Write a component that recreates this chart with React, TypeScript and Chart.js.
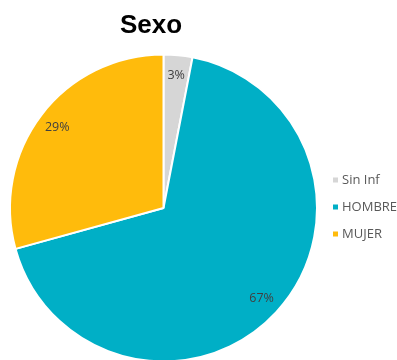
import { useEffect, useRef } from "react";
import { Chart, registerables } from "chart.js";

Chart.register(...registerables);

const TITLE = "Sexo";
const categories = ["Sin Inf", "HOMBRE", "MUJER"];
const shares = [3, 67, 29];
const sliceColors = ["#D6D6D6", "#00AFC6", "#FFBB0C"];

const LABEL_FONT = "12.5px 'Open Sans', 'Liberation Sans', sans-serif";
const LEGEND_FONT = "13px 'Open Sans', 'Liberation Sans', sans-serif";

// Percentage text placed inside each slice, along its middle angle
const sliceLabels = {
  id: "sliceLabels",
  afterDatasetsDraw(chart: any) {
    const ctx = chart.ctx;
    const meta = chart.getDatasetMeta(0);
    ctx.save();
    ctx.font = LABEL_FONT;
    ctx.fillStyle = "#404040";
    ctx.textAlign = "center";
    ctx.textBaseline = "middle";
    meta.data.forEach((arc: any, i: number) => {
      const { x, y, startAngle, endAngle, outerRadius } = arc.getProps(
        ["x", "y", "startAngle", "endAngle", "outerRadius"],
        true
      );
      const mid = (startAngle + endAngle) / 2;
      const r = outerRadius * 0.87;
      ctx.fillText(`${shares[i]}%`, x + Math.cos(mid) * r, y + Math.sin(mid) * r);
    });
    ctx.restore();
  },
};

// Title above the pie and a small square-marker legend to its right
const frame = {
  id: "frame",
  beforeDraw(chart: any) {
    const ctx = chart.ctx;
    ctx.save();
    ctx.fillStyle = "#ffffff";
    ctx.fillRect(0, 0, chart.width, chart.height);
    ctx.restore();
  },
  afterDraw(chart: any) {
    const ctx = chart.ctx;
    const area = chart.chartArea;
    const cx = (area.left + area.right) / 2;
    const cy = (area.top + area.bottom) / 2;
    ctx.save();
    ctx.font = "bold 26px 'Liberation Sans', Arial, sans-serif";
    ctx.fillStyle = "#000000";
    ctx.textAlign = "center";
    ctx.textBaseline = "alphabetic";
    ctx.fillText(TITLE, cx - 12.5, 33);

    ctx.font = LEGEND_FONT;
    ctx.textAlign = "left";
    ctx.textBaseline = "middle";
    const lx = area.right + 15;
    categories.forEach((name, i) => {
      const y = cy - 28 + i * 27;
      ctx.fillStyle = sliceColors[i];
      ctx.fillRect(lx, y - 2.5, 5, 5);
      ctx.fillStyle = "#595959";
      ctx.fillText(name, lx + 9, y);
    });
    ctx.restore();
  },
};

export default function App() {
  const canvasRef = useRef<HTMLCanvasElement | null>(null);

  useEffect(() => {
    if (!canvasRef.current) return;
    const chart = new Chart(canvasRef.current, {
      type: "pie",
      data: {
        labels: categories,
        datasets: [
          {
            data: shares,
            backgroundColor: sliceColors,
            borderColor: "#ffffff",
            borderWidth: 2,
          },
        ],
      },
      options: {
        responsive: false,
        animation: false,
        layout: { padding: { left: 9, top: 53, right: 79, bottom: 7 } },
        plugins: {
          legend: { display: false },
          title: { display: false },
          tooltip: { enabled: false },
        },
      },
      plugins: [frame, sliceLabels],
    });
    return () => chart.destroy();
  }, []);

  return (
    <div style={{ position: "fixed", left: 0, top: 0, width: 397, height: 370, background: "#fff" }}>
      <canvas ref={canvasRef} width={397} height={370} />
    </div>
  );
}
